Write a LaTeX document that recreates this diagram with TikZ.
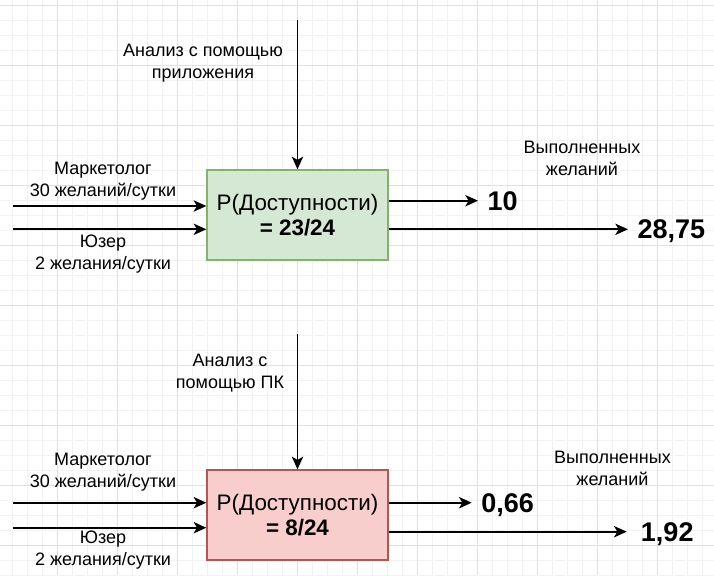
\documentclass[tikz,border=0pt]{standalone}
\usepackage{fontspec}
\setmainfont{Liberation Sans}
\usepackage{tikz}
\usetikzlibrary{arrows.meta,positioning}
\definecolor{gridminor}{HTML}{F2F2F2}
\definecolor{gridmajor}{HTML}{E0E0E0}
\definecolor{greenfill}{HTML}{D5E8D4}
\definecolor{greenline}{HTML}{82B366}
\definecolor{redfill}{HTML}{F8CECC}
\definecolor{redline}{HTML}{B85450}

\begin{document}
\begin{tikzpicture}[x=0.75pt, y=-0.75pt,
  lbl/.style={align=center, inner sep=0pt, font=\fontsize{13.5}{16.5}\selectfont},
  num/.style={anchor=west, inner xsep=7pt, inner ysep=0pt, text depth=0pt, font=\fontsize{20.25}{24}\selectfont\bfseries},
  pbox/.style={draw, line width=1pt, minimum width=135.75pt, minimum height=67.5pt, align=center, font=\fontsize{16.8}{19}\selectfont},
  arr/.style={-{Stealth[length=9.5pt, width=8.5pt, inset=2.5pt]}, line width=1.35pt}]

\useasboundingbox (0,0) rectangle (714,575);
\fill[white] (0,0) rectangle (714,575);

% grid
\foreach \gx in {12.5,27.5,...,714} \draw[gridminor, line width=0.75pt] (\gx,0) -- (\gx,575);
\foreach \gy in {5,20,...,575} \draw[gridminor, line width=0.75pt] (0,\gy) -- (714,\gy);
\foreach \gx in {57.5,117.5,...,714} \draw[gridmajor, line width=0.75pt] (\gx,0) -- (\gx,575);
\foreach \gy in {5,65,...,575} \draw[gridmajor, line width=0.75pt] (0,\gy) -- (714,\gy);

% upper block
\node[pbox, fill=greenfill, draw=greenline] (dost1) at (297.5,215) {Р(Доступности)\\\textbf{= 23/24}};

\coordinate (an1) at (297.5,20);
\draw[arr] (an1) -- (dost1.north);
\node[lbl] (anl1) at (203,63.5) {Анализ с помощью\\приложения};

\coordinate (mark1) at (12.5,206);
\coordinate (user1) at (12.5,229.3);
\draw[arr] (mark1) -- (mark1 -| dost1.west);
\draw[arr] (user1) -- (user1 -| dost1.west);
\node[lbl] (markl1) at (103,181) {Маркетолог\\30 желаний/сутки};
\node[lbl] (userl1) at (103,254) {Юзер\\2 желания/сутки};

\node[num] (out1a) at (478,200.7) {10};
\node[num] (out1b) at (628,229.3) {28,75};
\draw[arr] (out1a.west -| dost1.east) -- (out1a.west);
\draw[arr] (out1b.west -| dost1.east) -- (out1b.west);
\node[lbl] (done1) at (582,158) {Выполненных\\желаний};

% lower block
\node[pbox, fill=redfill, draw=redline] (dost2) at (297.5,515) {Р(Доступности)\\\textbf{= 8/24}};

\coordinate (an2) at (297.5,334);
\draw[arr] (an2) -- (dost2.north);
\node[lbl] (anl2) at (230,373.5) {Анализ с\\помощью ПК};

\coordinate (mark2) at (12.5,502.7);
\coordinate (user2) at (12.5,527.7);
\draw[arr] (mark2) -- (mark2 -| dost2.west);
\draw[arr] (user2) -- (user2 -| dost2.west);
\node[lbl] (markl2) at (103,472) {Маркетолог\\30 желаний/сутки};
\node[lbl] (userl2) at (103,550) {Юзер\\2 желания/сутки};

\node[num] (out2a) at (471.7,502.7) {0,66};
\node[num, inner xsep=10.5pt] (out2b) at (626.7,531.7) {1,92};
\draw[arr] (out2a.west -| dost2.east) -- (out2a.west);
\draw[arr] (out2b.west -| dost2.east) -- (out2b.west);
\node[lbl] (done2) at (612.5,468) {Выполненных\\желаний};

\end{tikzpicture}
\end{document}
